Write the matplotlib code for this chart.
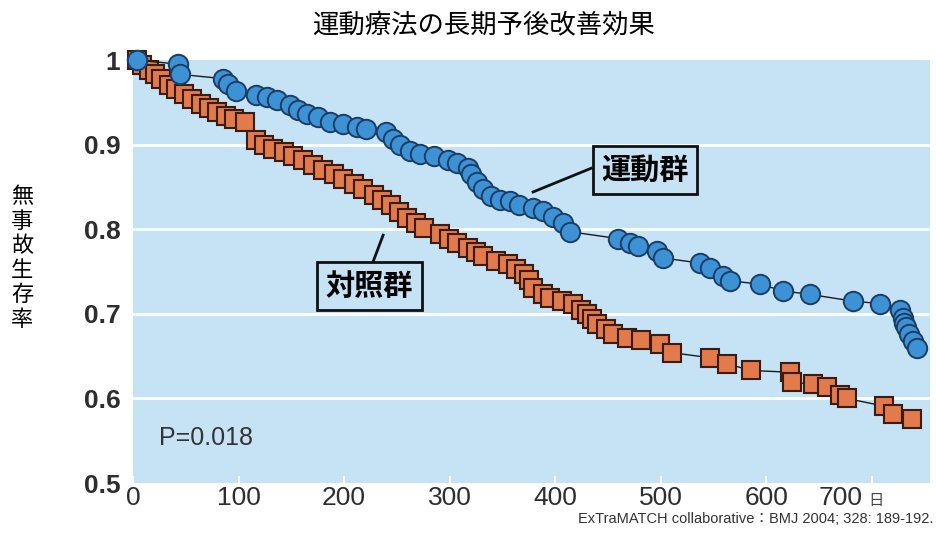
import matplotlib.pyplot as plt
from matplotlib import font_manager
from matplotlib.transforms import ScaledTranslation

# 運動群 (exercise group)
ex_days = [4, 43, 45, 85, 90, 98, 117, 127, 136, 149, 156, 165, 175, 187, 199, 212, 221,
           240, 246, 253, 262, 272, 285, 298, 307, 317, 320, 326, 332, 339, 348, 357, 366,
           379, 388, 398, 407, 414, 459, 471, 478, 496, 502, 537, 547, 559, 566, 594, 616,
           641, 682, 708, 727, 729, 730, 732, 735, 739, 743]
ex_surv = [1.0, 0.995, 0.983, 0.978, 0.972, 0.963, 0.959, 0.956, 0.953, 0.947, 0.941, 0.936,
           0.933, 0.927, 0.924, 0.921, 0.918, 0.915, 0.907, 0.900, 0.893, 0.889, 0.886, 0.882,
           0.878, 0.872, 0.865, 0.856, 0.847, 0.839, 0.835, 0.833, 0.829, 0.825, 0.821, 0.815,
           0.807, 0.797, 0.789, 0.784, 0.780, 0.774, 0.766, 0.760, 0.754, 0.745, 0.739, 0.735,
           0.727, 0.723, 0.715, 0.712, 0.704, 0.695, 0.689, 0.684, 0.676, 0.668, 0.659]

# 対照群 (control group)
ct_days = [4, 9, 15, 21, 27, 34, 41, 48, 56, 64, 72, 80, 88, 96, 106, 117, 124, 133, 143,
           152, 161, 171, 180, 190, 199, 209, 218, 228, 236, 244, 252, 260, 268, 276, 291,
           299, 307, 317, 325, 332, 344, 355, 363, 370, 375, 379, 388, 395, 406, 417, 424,
           430, 435, 440, 448, 455, 468, 481, 499, 511, 547, 563, 585, 622, 624, 644, 657,
           670, 676, 711, 720, 738]
ct_surv = [1.0, 0.994, 0.988, 0.983, 0.977, 0.971, 0.966, 0.960, 0.954, 0.948, 0.943, 0.938,
           0.934, 0.930, 0.927, 0.906, 0.900, 0.895, 0.891, 0.887, 0.882, 0.876, 0.870, 0.865,
           0.859, 0.853, 0.847, 0.841, 0.835, 0.829, 0.820, 0.813, 0.807, 0.801, 0.794, 0.789,
           0.784, 0.778, 0.773, 0.768, 0.763, 0.759, 0.753, 0.747, 0.740, 0.731, 0.724, 0.719,
           0.715, 0.711, 0.705, 0.700, 0.694, 0.688, 0.682, 0.676, 0.671, 0.669, 0.664, 0.654,
           0.648, 0.641, 0.633, 0.631, 0.619, 0.617, 0.613, 0.604, 0.600, 0.591, 0.582, 0.576]

x_ticks = [0, 100, 200, 300, 400, 500, 600, 700]
y_ticks = [0.5, 0.6, 0.7, 0.8, 0.9, 1.0]
y_tick_labels = ['0.5', '0.6', '0.7', '0.8', '0.9', '1']

installed = {f.name for f in font_manager.fontManager.ttflist}
narrow = 'Liberation Sans Narrow' if 'Liberation Sans Narrow' in installed else 'Liberation Sans'
jp = 'Noto Sans CJK JP'
plt.rcParams['font.family'] = ['Liberation Sans', jp, 'DejaVu Sans']

bg = '#c6e2f5'
fig = plt.figure(figsize=(9.37, 5.51), dpi=100)
ax = fig.add_axes([0.1419, 0.1234, 0.8506, 0.7677])
ax.set_facecolor(bg)
for s in ax.spines.values():
    s.set_visible(False)

ax.set_xlim(0, 755)
ax.set_ylim(0.5, 1.0)
for yv in y_ticks[1:-1]:
    ax.axhline(yv, color='white', lw=2, zorder=1)

ax.plot(ct_days, ct_surv, color='#1a1a1a', lw=1, marker='s', markersize=13.5,
        markerfacecolor='#e27a4c', markeredgecolor='#3a1c12', markeredgewidth=1.5,
        zorder=3, clip_on=False)
ax.plot(ex_days, ex_surv, color='#1a1a1a', lw=1, marker='o', markersize=14,
        markerfacecolor='#3d92d6', markeredgecolor='#1b3d63', markeredgewidth=1.4,
        zorder=4, clip_on=False)

ax.set_xticks(x_ticks)
ax.set_xticklabels([str(v) for v in x_ticks])
ax.set_yticks(y_ticks)
ax.set_yticklabels(y_tick_labels)
ax.tick_params(axis='x', direction='in', color='white', length=5, width=1.5,
               pad=2, labelsize=19, labelcolor='#2e2e2e')
ax.tick_params(axis='y', length=0, pad=9, labelsize=19, labelcolor='#2e2e2e')
for lab in ax.get_yticklabels():
    lab.set_fontweight('bold')
last = ax.get_xticklabels()[-1]
last.set_transform(last.get_transform() + ScaledTranslation(-0.31, 0, fig.dpi_scale_trans))
ax.text(876 / 937, 1 - 500 / 551, '日', transform=fig.transFigure, ha='center',
        va='center', fontsize=11, color='#444444', family=[jp])

# group labels
box = dict(boxstyle='square,pad=0.3', facecolor=bg, edgecolor='#111111', linewidth=2)
ax.text(485, 0.870, '運動群', ha='center', va='center', fontsize=21, fontweight='bold',
        family=[jp], bbox=box, zorder=6)
ax.plot([379, 434], [0.844, 0.872], color='#111111', lw=2, zorder=5)
ax.text(224, 0.733, '対照群', ha='center', va='center', fontsize=21, fontweight='bold',
        family=[jp], bbox=box, zorder=6)
ax.plot([237, 227], [0.793, 0.760], color='#111111', lw=2, zorder=5)

ax.text(25, 0.553, 'P=0.018', ha='left', va='center', fontsize=18, color='#333333')

fig.text(0.516, 0.955, '運動療法の長期予後改善効果', ha='center', va='center',
         fontsize=19, family=[jp])
fig.text(22 / 937, 1 - 258 / 551, '\n'.join('無事故生存率'), ha='center', va='center',
         fontsize=16, linespacing=1.08, family=[jp])
fig.text(0.996, 0.058, 'ExTraMATCH collaborative：BMJ 2004; 328: 189-192.', ha='right',
         va='center', fontsize=10.5, color='#333333', family=[narrow, jp])

fig.savefig('out.png', dpi=100)
